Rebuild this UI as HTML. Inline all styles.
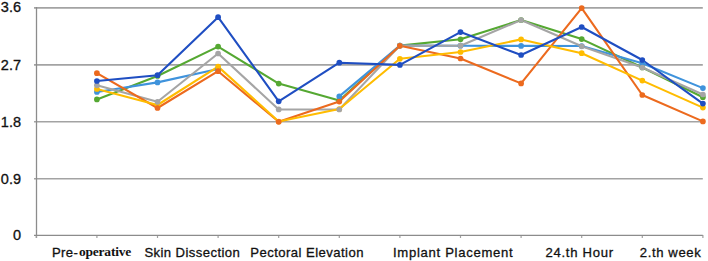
<!DOCTYPE html>
<html><head><meta charset="utf-8">
<style>
html,body{margin:0;padding:0;background:#fff;}
body{width:708px;height:261px;position:relative;overflow:hidden;}
svg{position:absolute;left:0;top:0;}
.t{position:absolute;font-family:"Liberation Sans",sans-serif;color:#111;white-space:nowrap;line-height:1;font-weight:normal;-webkit-text-stroke:0.3px #111;transform-origin:0 0;}
.s{font-family:"Liberation Serif",serif;font-weight:bold;-webkit-text-stroke:0;}
</style></head>
<body>
<svg width="708" height="261" viewBox="0 0 708 261">
<line x1="34" y1="7.9" x2="702.8" y2="7.9" stroke="#a3a3a3" stroke-width="1.6"/>
<line x1="34" y1="64.9" x2="702.8" y2="64.9" stroke="#a3a3a3" stroke-width="1.6"/>
<line x1="34" y1="121.8" x2="702.8" y2="121.8" stroke="#a3a3a3" stroke-width="1.6"/>
<line x1="34" y1="178.7" x2="702.8" y2="178.7" stroke="#a3a3a3" stroke-width="1.6"/>
<line x1="36.5" y1="7" x2="36.5" y2="238" stroke="#8c8c8c" stroke-width="1.3"/>
<line x1="36.3" y1="235" x2="36.3" y2="238" stroke="#a0a0a0" stroke-width="1.2"/>
<line x1="96.9" y1="235" x2="96.9" y2="238" stroke="#a0a0a0" stroke-width="1.2"/>
<line x1="157.5" y1="235" x2="157.5" y2="238" stroke="#a0a0a0" stroke-width="1.2"/>
<line x1="218.1" y1="235" x2="218.1" y2="238" stroke="#a0a0a0" stroke-width="1.2"/>
<line x1="278.7" y1="235" x2="278.7" y2="238" stroke="#a0a0a0" stroke-width="1.2"/>
<line x1="339.3" y1="235" x2="339.3" y2="238" stroke="#a0a0a0" stroke-width="1.2"/>
<line x1="399.9" y1="235" x2="399.9" y2="238" stroke="#a0a0a0" stroke-width="1.2"/>
<line x1="460.5" y1="235" x2="460.5" y2="238" stroke="#a0a0a0" stroke-width="1.2"/>
<line x1="521.1" y1="235" x2="521.1" y2="238" stroke="#a0a0a0" stroke-width="1.2"/>
<line x1="581.7" y1="235" x2="581.7" y2="238" stroke="#a0a0a0" stroke-width="1.2"/>
<line x1="642.3" y1="235" x2="642.3" y2="238" stroke="#a0a0a0" stroke-width="1.2"/>
<line x1="702.9" y1="235" x2="702.9" y2="238" stroke="#a0a0a0" stroke-width="1.2"/>
<line x1="34" y1="235.4" x2="702.8" y2="235.4" stroke="#8c8c8c" stroke-width="1.4"/>
<polyline points="96.9,99.4 157.5,76 218.1,46.6 278.7,83.6 339.3,100.5 399.9,45.6 460.5,39.3 521.1,20 581.7,39.1 642.3,67.5 702.9,97.2" fill="none" stroke="#55a832" stroke-width="2.1" stroke-linejoin="round" stroke-linecap="round"/>
<polyline points="96.9,92 157.5,82.4 218.1,69" fill="none" stroke="#3f93dc" stroke-width="2.1" stroke-linejoin="round" stroke-linecap="round"/>
<polyline points="339.3,96.4 399.9,45.6 460.5,45.7 521.1,45.9 581.7,46 642.3,63.3 702.9,88.1" fill="none" stroke="#3f93dc" stroke-width="2.1" stroke-linejoin="round" stroke-linecap="round"/>
<polyline points="96.9,85.3 157.5,101.8 218.1,53.5 278.7,109.4 339.3,109.5 399.9,45.6 460.5,45.7 521.1,20 581.7,46.3 642.3,67.5 702.9,94.5" fill="none" stroke="#a5a5a5" stroke-width="2.1" stroke-linejoin="round" stroke-linecap="round"/>
<polyline points="96.9,73.2 157.5,108 218.1,71.2 278.7,121.8 339.3,101.6 399.9,45.8 460.5,58.5 521.1,83.4 581.7,8.1 642.3,95 702.9,121.4" fill="none" stroke="#ec6a1e" stroke-width="2.1" stroke-linejoin="round" stroke-linecap="round"/>
<polyline points="96.9,89 157.5,105 218.1,66.6 278.7,121.5 339.3,109 399.9,58.8 460.5,52 521.1,39.4 581.7,53.2 642.3,80.6 702.9,107.6" fill="none" stroke="#ffbc00" stroke-width="2.1" stroke-linejoin="round" stroke-linecap="round"/>
<polyline points="96.9,81 157.5,75.2 218.1,17.2 278.7,101.3 339.3,62.7 399.9,64.9 460.5,32.1 521.1,55 581.7,27 642.3,60 702.9,103.6" fill="none" stroke="#1f4ec2" stroke-width="2.1" stroke-linejoin="round" stroke-linecap="round"/>
<circle cx="96.9" cy="99.4" r="2.85" fill="#55a832"/>
<circle cx="157.5" cy="76" r="2.85" fill="#55a832"/>
<circle cx="218.1" cy="46.6" r="2.85" fill="#55a832"/>
<circle cx="278.7" cy="83.6" r="2.85" fill="#55a832"/>
<circle cx="339.3" cy="100.5" r="2.85" fill="#55a832"/>
<circle cx="399.9" cy="45.6" r="2.85" fill="#55a832"/>
<circle cx="460.5" cy="39.3" r="2.85" fill="#55a832"/>
<circle cx="521.1" cy="20" r="2.85" fill="#55a832"/>
<circle cx="581.7" cy="39.1" r="2.85" fill="#55a832"/>
<circle cx="642.3" cy="67.5" r="2.85" fill="#55a832"/>
<circle cx="702.9" cy="97.2" r="2.85" fill="#55a832"/>
<circle cx="96.9" cy="92" r="2.85" fill="#3f93dc"/>
<circle cx="157.5" cy="82.4" r="2.85" fill="#3f93dc"/>
<circle cx="218.1" cy="69" r="2.85" fill="#3f93dc"/>
<circle cx="339.3" cy="96.4" r="2.85" fill="#3f93dc"/>
<circle cx="399.9" cy="45.6" r="2.85" fill="#3f93dc"/>
<circle cx="460.5" cy="45.7" r="2.85" fill="#3f93dc"/>
<circle cx="521.1" cy="45.9" r="2.85" fill="#3f93dc"/>
<circle cx="581.7" cy="46" r="2.85" fill="#3f93dc"/>
<circle cx="642.3" cy="63.3" r="2.85" fill="#3f93dc"/>
<circle cx="702.9" cy="88.1" r="2.85" fill="#3f93dc"/>
<circle cx="96.9" cy="89" r="2.85" fill="#ffbc00"/>
<circle cx="157.5" cy="105" r="2.85" fill="#ffbc00"/>
<circle cx="218.1" cy="66.6" r="2.85" fill="#ffbc00"/>
<circle cx="278.7" cy="121.5" r="2.85" fill="#ffbc00"/>
<circle cx="339.3" cy="109" r="2.85" fill="#ffbc00"/>
<circle cx="399.9" cy="58.8" r="2.85" fill="#ffbc00"/>
<circle cx="460.5" cy="52" r="2.85" fill="#ffbc00"/>
<circle cx="521.1" cy="39.4" r="2.85" fill="#ffbc00"/>
<circle cx="581.7" cy="53.2" r="2.85" fill="#ffbc00"/>
<circle cx="642.3" cy="80.6" r="2.85" fill="#ffbc00"/>
<circle cx="702.9" cy="107.6" r="2.85" fill="#ffbc00"/>
<circle cx="96.9" cy="85.3" r="2.85" fill="#a5a5a5"/>
<circle cx="157.5" cy="101.8" r="2.85" fill="#a5a5a5"/>
<circle cx="218.1" cy="53.5" r="2.85" fill="#a5a5a5"/>
<circle cx="278.7" cy="109.4" r="2.85" fill="#a5a5a5"/>
<circle cx="339.3" cy="109.5" r="2.85" fill="#a5a5a5"/>
<circle cx="399.9" cy="45.6" r="2.85" fill="#a5a5a5"/>
<circle cx="460.5" cy="45.7" r="2.85" fill="#a5a5a5"/>
<circle cx="521.1" cy="20" r="2.85" fill="#a5a5a5"/>
<circle cx="581.7" cy="46.3" r="2.85" fill="#a5a5a5"/>
<circle cx="642.3" cy="67.5" r="2.85" fill="#a5a5a5"/>
<circle cx="702.9" cy="94.5" r="2.85" fill="#a5a5a5"/>
<circle cx="96.9" cy="81" r="2.85" fill="#1f4ec2"/>
<circle cx="157.5" cy="75.2" r="2.85" fill="#1f4ec2"/>
<circle cx="218.1" cy="17.2" r="2.85" fill="#1f4ec2"/>
<circle cx="278.7" cy="101.3" r="2.85" fill="#1f4ec2"/>
<circle cx="339.3" cy="62.7" r="2.85" fill="#1f4ec2"/>
<circle cx="399.9" cy="64.9" r="2.85" fill="#1f4ec2"/>
<circle cx="460.5" cy="32.1" r="2.85" fill="#1f4ec2"/>
<circle cx="521.1" cy="55" r="2.85" fill="#1f4ec2"/>
<circle cx="581.7" cy="27" r="2.85" fill="#1f4ec2"/>
<circle cx="642.3" cy="60" r="2.85" fill="#1f4ec2"/>
<circle cx="702.9" cy="103.6" r="2.85" fill="#1f4ec2"/>
<circle cx="96.9" cy="73.2" r="2.85" fill="#ec6a1e"/>
<circle cx="157.5" cy="108" r="2.85" fill="#ec6a1e"/>
<circle cx="218.1" cy="71.2" r="2.85" fill="#ec6a1e"/>
<circle cx="278.7" cy="121.8" r="2.85" fill="#ec6a1e"/>
<circle cx="339.3" cy="101.6" r="2.85" fill="#ec6a1e"/>
<circle cx="399.9" cy="45.8" r="2.85" fill="#ec6a1e"/>
<circle cx="460.5" cy="58.5" r="2.85" fill="#ec6a1e"/>
<circle cx="521.1" cy="83.4" r="2.85" fill="#ec6a1e"/>
<circle cx="581.7" cy="8.1" r="2.85" fill="#ec6a1e"/>
<circle cx="642.3" cy="95" r="2.85" fill="#ec6a1e"/>
<circle cx="702.9" cy="121.4" r="2.85" fill="#ec6a1e"/>
</svg>
<div class="t y" style="left:0.83px;top:0.2px;font-size:14.5px;">3.6</div>
<div class="t y" style="left:0.83px;top:57.8px;font-size:14.5px;">2.7</div>
<div class="t y" style="left:0.83px;top:114.8px;font-size:14.5px;">1.8</div>
<div class="t y" style="left:0.83px;top:171.6px;font-size:14.5px;">0.9</div>
<div class="t y" style="left:12.92px;top:228.2px;font-size:14.5px;">0</div>
<div class="t x" style="left:52px;top:245.8px;font-size:13.1px;letter-spacing:0.368px;">Pre-</div>
<div class="t x s" style="left:78.96px;top:245.3px;font-size:13.5px;letter-spacing:-0.211px;">operative</div>
<div class="t x" style="left:144.39px;top:245.8px;font-size:13.1px;letter-spacing:0.427px;">Skin Dissection</div>
<div class="t x" style="left:250.3px;top:245.8px;font-size:13.1px;letter-spacing:0.451px;">Pectoral Elevation</div>
<div class="t x" style="left:392.99px;top:245.8px;font-size:13.1px;letter-spacing:0.703px;">Implant Placement</div>
<div class="t x" style="left:545.56px;top:245.8px;font-size:13.1px;letter-spacing:0.704px;">24.th Hour</div>
<div class="t x" style="left:639.83px;top:245.8px;font-size:13.1px;letter-spacing:0.612px;">2.th week</div>
</body></html>
